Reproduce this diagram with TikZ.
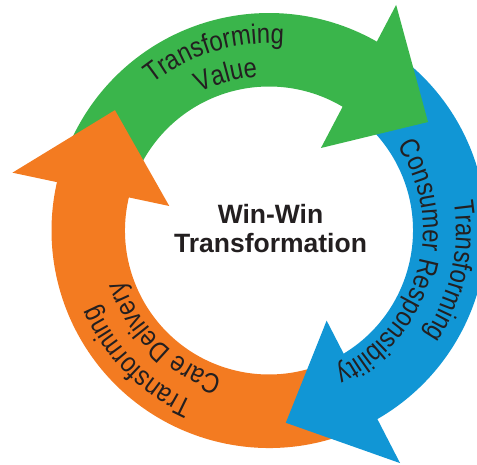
\documentclass[tikz,border=0pt]{standalone}
\usepackage{fontspec}
\usepackage{tikz}
\usetikzlibrary{decorations.text}
\newfontfamily\arcfam[FakeStretch=0.85]{Liberation Sans}
\newfontfamily\hubfam{Liberation Sans}
\definecolor{cyclegreen}{RGB}{58,181,75}
\definecolor{cycleblue}{RGB}{17,150,213}
\definecolor{cycleorange}{RGB}{243,123,33}
\definecolor{inkdark}{RGB}{35,31,32}

\begin{document}
\begin{tikzpicture}[
        hubtext/.style={align=center, text=inkdark, inner sep=0pt, font=\hubfam\bfseries\fontsize{26.5}{29}\selectfont},
        arclabel/.style={decorate, decoration={text along path, text align=center,
            text={|\arcfam\fontsize{28}{32}\selectfont\color{inkdark}|#1}}}
    ]

    %styles
    \tikzstyle{greenarrow}=[fill=cyclegreen]
    \tikzstyle{bluearrow}=[fill=cycleblue]
    \tikzstyle{orangearrow}=[fill=cycleorange]

    \useasboundingbox (-269pt,-234.5pt) rectangle (208pt,230.5pt);

    %arrow bodies (tails and ends both tucked under the heads)
    \fill[greenarrow] (165.5:217.5pt) arc[start angle=165.5, end angle=58, radius=217.5pt]
        -- (57:144pt) arc[start angle=57, end angle=165.5, radius=144pt] -- cycle;
    \fill[bluearrow] (58:217.5pt) arc[start angle=58, end angle=-62, radius=217.5pt]
        -- (-60:144pt) arc[start angle=-60, end angle=57, radius=144pt] -- cycle;
    \fill[orangearrow] (-62:217.5pt) arc[start angle=298, end angle=165.5, radius=217.5pt]
        -- (165.5:144pt) arc[start angle=165.5, end angle=300, radius=144pt] -- cycle;

    %arrow heads
    \fill[greenarrow] (60.6:259pt) -- (34.3:192.5pt) -- (57.8:97.5pt) -- cycle;
    \fill[bluearrow] (-60.6:267pt) -- (-85:193pt) -- (-57.4:107pt) -- cycle;
    \fill[orangearrow] (167.3:263pt) -- (142:195.5pt) -- (166.2:102.7pt) -- cycle;

    %labels
    \path[arclabel={Transforming}] (167:187pt) arc[start angle=167, end angle=47, radius=187pt];
    \path[arclabel={Value}] (165.5:154pt) arc[start angle=165.5, end angle=45.5, radius=154pt];
    \path[arclabel={Transforming}] (47.5:187pt) arc[start angle=47.5, end angle=-72.5, radius=187pt];
    \path[arclabel={Consumer Responsibility}] (54.4:154pt) arc[start angle=54.4, end angle=-85.6, radius=154pt];
    \path[arclabel={Transforming}] (284.8:187pt) arc[start angle=284.8, end angle=164.8, radius=187pt];
    \path[arclabel={Care Delivery}] (285.7:154pt) arc[start angle=285.7, end angle=165.7, radius=154pt];

    \node[hubtext] (hub) at (1.5pt,2pt) {Win-Win\\Transformation};

\end{tikzpicture}
\end{document}
